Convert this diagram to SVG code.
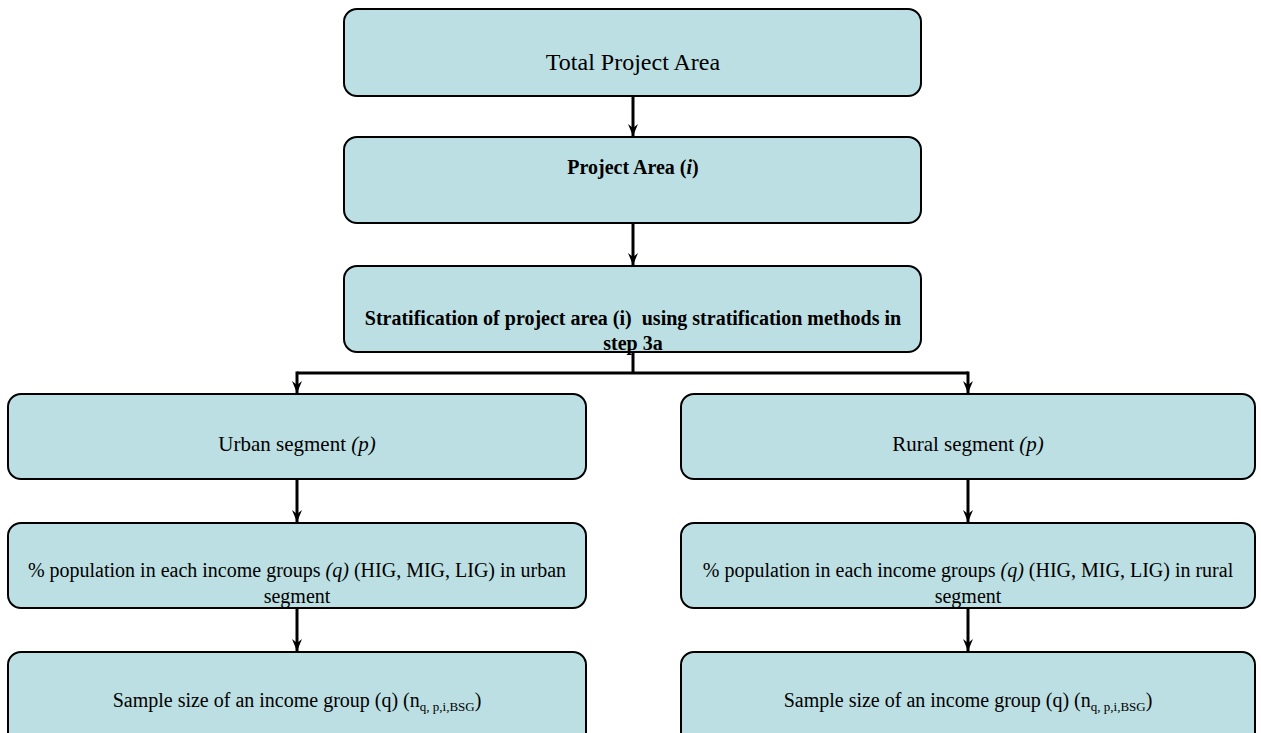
<svg xmlns="http://www.w3.org/2000/svg" width="1261" height="733" viewBox="0 0 1261 733">
<style>
.box{fill:#bcdfe3;stroke:#000;stroke-width:2}
.t{font-family:"Liberation Serif","Times New Roman",serif;fill:#000;text-anchor:middle}
.b{font-weight:bold}
.c{stroke:#000;stroke-width:3;fill:none}
</style>
<defs>
<marker id="ah" viewBox="0 0 12 10" refX="12" refY="5" markerWidth="12" markerHeight="10" markerUnits="userSpaceOnUse" orient="auto">
<path d="M0,0 L12,5 L0,10 L4,5 z" fill="#000"/>
</marker>
</defs>
<rect width="1261" height="733" fill="#fff"/>
<g id="connectors">
<path class="c" d="M633,96 V136" marker-end="url(#ah)"/>
<path class="c" d="M633,223 V265" marker-end="url(#ah)"/>
<path class="c" d="M633,352 V373 M297,373 H968"/>
<path class="c" d="M297,371.5 V393" marker-end="url(#ah)"/>
<path class="c" d="M968,371.5 V393" marker-end="url(#ah)"/>
<path class="c" d="M297,479 V522" marker-end="url(#ah)"/>
<path class="c" d="M968,479 V522" marker-end="url(#ah)"/>
<path class="c" d="M297,608 V651" marker-end="url(#ah)"/>
<path class="c" d="M968,608 V651" marker-end="url(#ah)"/>
</g>
<g id="total">
<rect class="box" x="344" y="9" width="577" height="87" rx="13"/>
<text class="t" x="633" y="70" font-size="24">Total Project Area</text>
</g>
<g id="project">
<rect class="box" x="344" y="137" width="577" height="86" rx="13"/>
<text class="t b" x="633" y="174" font-size="20">Project Area (<tspan font-style="italic">i</tspan>)</text>
</g>
<g id="strat">
<rect class="box" x="344" y="266" width="577" height="86" rx="13"/>
<text class="t b" x="633" y="325" font-size="20">Stratification of project area (i)&#160; using stratification methods in</text>
<text class="t b" x="633" y="350" font-size="20">step 3a</text>
</g>
<g id="urban">
<rect class="box" x="8" y="394" width="578" height="85" rx="13"/>
<text class="t" x="297" y="451" font-size="21">Urban segment <tspan font-style="italic">(p)</tspan></text>
</g>
<g id="rural">
<rect class="box" x="681" y="394" width="574" height="85" rx="13"/>
<text class="t" x="968" y="451" font-size="21">Rural segment <tspan font-style="italic">(p)</tspan></text>
</g>
<g id="urban-income">
<rect class="box" x="8" y="523" width="578" height="85" rx="13"/>
<text class="t" x="297" y="577" font-size="20">% population in each income groups <tspan font-style="italic">(q)</tspan> (HIG, MIG, LIG) in urban</text>
<text class="t" x="297" y="603" font-size="20">segment</text>
</g>
<g id="rural-income">
<rect class="box" x="681" y="523" width="574" height="85" rx="13"/>
<text class="t" x="968" y="577" font-size="20">% population in each income groups <tspan font-style="italic">(q)</tspan> (HIG, MIG, LIG) in rural</text>
<text class="t" x="968" y="603" font-size="20">segment</text>
</g>
<g id="urban-sample">
<rect class="box" x="8" y="652" width="578" height="100" rx="13"/>
<text class="t" x="297" y="707" font-size="20">Sample size of an income group (q) (n<tspan font-size="13" dy="4">q, p,i,BSG</tspan><tspan dy="-4">)</tspan></text>
</g>
<g id="rural-sample">
<rect class="box" x="681" y="652" width="574" height="100" rx="13"/>
<text class="t" x="968" y="707" font-size="20">Sample size of an income group (q) (n<tspan font-size="13" dy="4">q, p,i,BSG</tspan><tspan dy="-4">)</tspan></text>
</g>
</svg>
